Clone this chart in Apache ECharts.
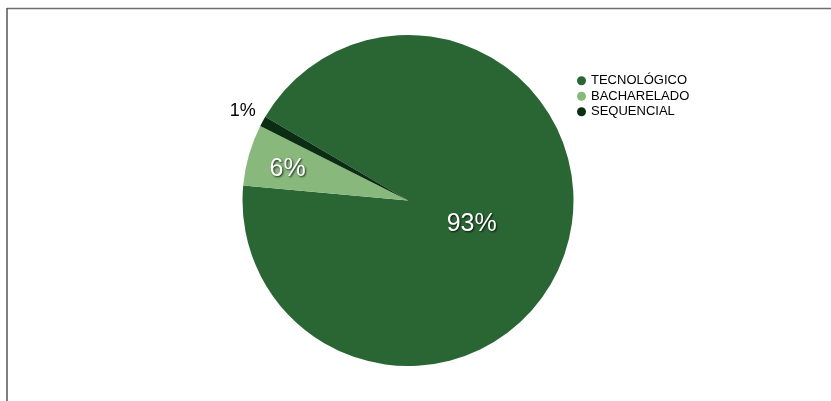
<!DOCTYPE html>
<html><head><meta charset="utf-8">
<script src="https://cdn.jsdelivr.net/npm/echarts@6/dist/echarts.min.js"></script>
<style>html,body{margin:0;padding:0;background:#fff}#c{width:831px;height:401px}</style>
</head><body><div id="c"></div>
<script>
const categories = ['TECNOLÓGICO', 'BACHARELADO', 'SEQUENCIAL'];
const values = [93, 6, 1];
const labels = ['93%', '6%', '1%'];
const colors = ['#2a6634', '#88b87c', '#0b2d13'];

const chart = echarts.init(document.getElementById('c'), null, {renderer: 'canvas'});
const insideLabel = {
  show: true, position: 'inside', color: '#fff', fontFamily: 'Liberation Sans, Arial, sans-serif',
  fontSize: 25, textShadowColor: 'rgba(0,0,0,0.8)', textShadowBlur: 2, textShadowOffsetX: 1, textShadowOffsetY: 1,
  formatter: p => labels[p.dataIndex]
};
chart.setOption({
  animation: false,
  graphic: [
    {type: 'line', shape: {x1: 7, y1: 8.5, x2: 831, y2: 8.5}, style: {stroke: '#6f6f6f', lineWidth: 1.5}},
    {type: 'line', shape: {x1: 7, y1: 8, x2: 7, y2: 401}, style: {stroke: '#555', lineWidth: 1.5}}
  ],
  legend: {
    orient: 'vertical', left: 572, top: 69, icon: 'circle', itemWidth: 9, itemHeight: 9, itemGap: 2,
    textStyle: {fontFamily: 'Liberation Sans, Arial, sans-serif', fontSize: 13, color: '#000', lineHeight: 13.5, padding: [0, 0, 0, 0]},
    data: categories
  },
  series: [{
    type: 'pie', center: [408, 200.5], radius: 165.5, startAngle: 149.6, clockwise: true,
    avoidLabelOverlap: false,
    itemStyle: {borderWidth: 0},
    emphasis: {disabled: true},
    labelLine: {show: false},
    labelLayout: function (p) {
      if (p.dataIndex === 0) return {dx: -18, dy: -3};
      if (p.dataIndex === 1) return {dx: -38, dy: -8};
      return {dx: 5, dy: -6};
    },
    data: categories.map((c, i) => {
      const d = {name: c, value: values[i], itemStyle: {color: colors[i]}};
      if (i === 2) {
        d.label = {show: true, position: 'outside', color: '#000', fontSize: 18, fontFamily: 'Liberation Sans, Arial, sans-serif',
          formatter: p => labels[p.dataIndex], textShadowBlur: 0};
        d.labelLine = {show: false, length: 8, length2: 0};
      } else {
        d.label = insideLabel;
      }
      return d;
    })
  }]
});
</script></body></html>
